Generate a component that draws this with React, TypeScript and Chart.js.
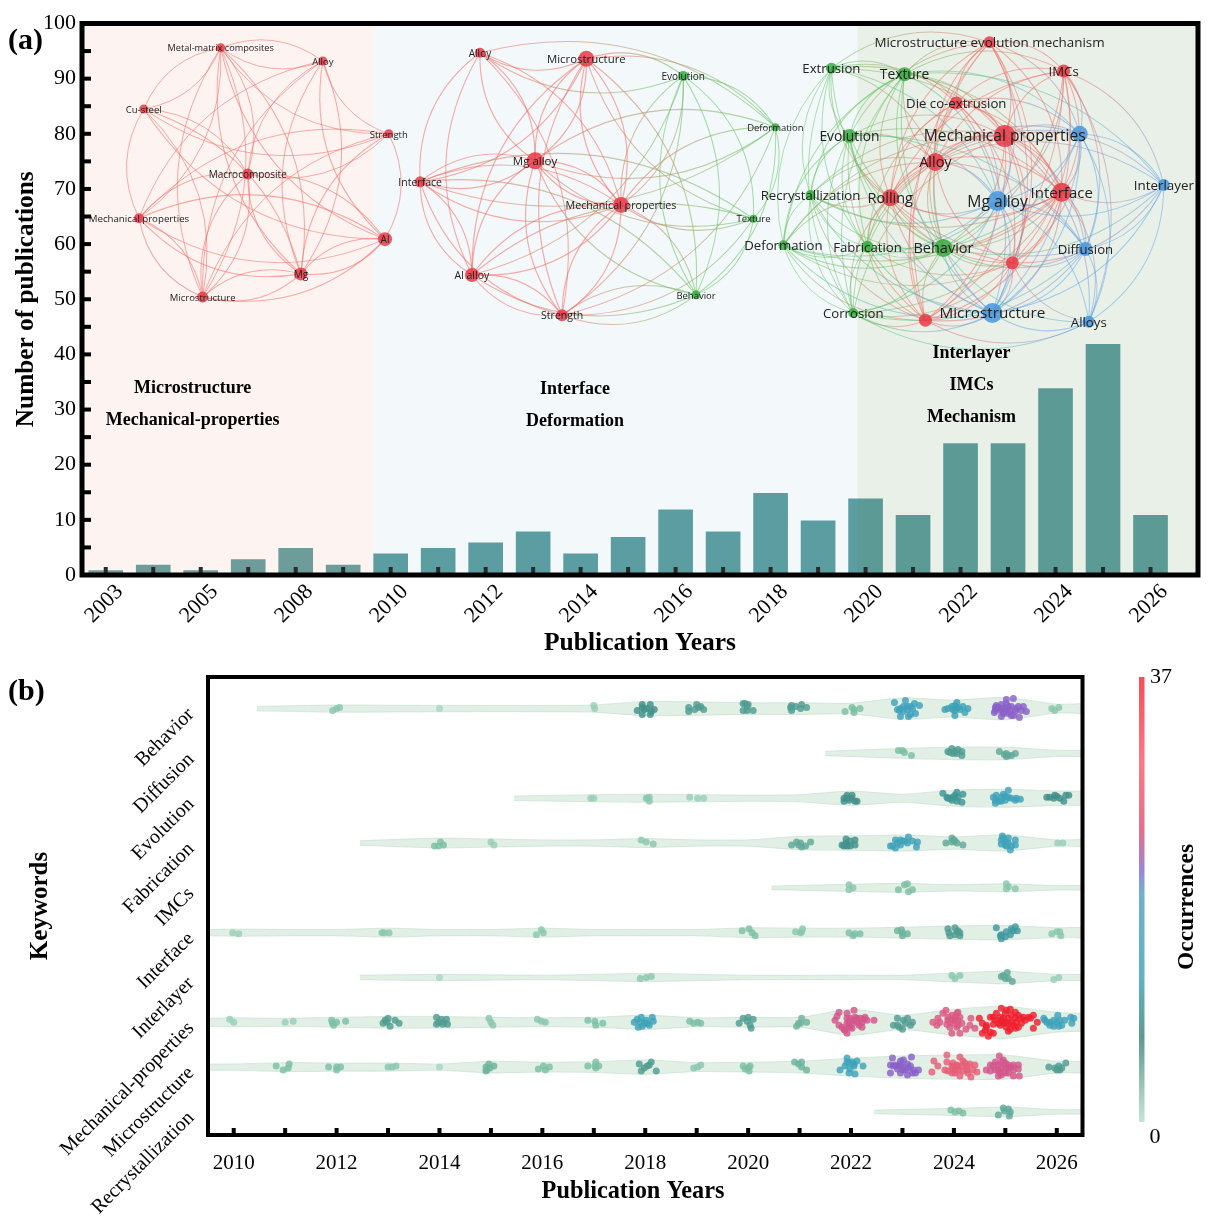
import React, { useEffect, useRef } from "react";
import { Chart } from "chart.js/auto";

// panel (a): publications per year
const barYears = [2003, 2004, 2005, 2007, 2008, 2009, 2010, 2011, 2012, 2013, 2014, 2015, 2016, 2017, 2018, 2019, 2020, 2021, 2022, 2023, 2024, 2025, 2026];
const barCounts = [1, 2, 1, 3, 5, 2, 4, 5, 6, 8, 4, 7, 12, 8, 15, 10, 14, 11, 24, 24, 34, 42, 11];
const bandEdges = [-0.5, 5.63, 15.83, 23];
const bandColors = ["rgba(235,135,105,0.1)", "rgba(55,138,188,0.06)", "rgba(72,130,63,0.12)"];
const stageLabels: [string, number, number][] = [
  ["Microstructure", 1.83, 34.1],
  ["Mechanical-properties", 1.83, 28.3],
  ["Interface", 9.88, 33.9],
  ["Deformation", 9.88, 28.1],
  ["Interlayer", 18.23, 40.4],
  ["IMCs", 18.23, 34.6],
  ["Mechanism", 18.23, 28.8],
];

// keyword networks: name, x, y, radius, cluster, label size
type NetNode = [string, number, number, number, string, number];
const network1: NetNode[] = [
  ["Metal-matrix composites", 2.42, 95.6, 4.5, "r", 9.2],
  ["Alloy", 4.57, 93.2, 4.5, "r", 9.5],
  ["Cu-steel", 0.8, 84.5, 4.5, "r", 9.5],
  ["Strength", 5.96, 80.0, 4.5, "r", 9.5],
  ["Macrocomposite", 2.99, 72.7, 5.5, "r", 10],
  ["Mechanical properties", 0.7, 64.7, 5, "r", 9.7],
  ["Al", 5.88, 60.9, 7, "r", 10],
  ["Mg", 4.11, 54.6, 6.5, "r", 10],
  ["Microstructure", 2.04, 50.4, 5.5, "r", 9.5],
];
const edges1 = [[0, 1], [0, 1, -1], [0, 2], [0, 2, -1], [0, 3, -1], [0, 4, -1], [0, 5, -1], [0, 6, -1], [0, 7], [0, 7, -1], [0, 8], [0, 8, -1], [1, 3, -1], [1, 4], [1, 5], [1, 6, -1], [1, 7], [1, 7, -1], [1, 8, -1], [2, 3, -1], [2, 4, -1], [2, 5], [2, 6, -1], [2, 7, -1], [2, 8, -1], [3, 4, -1], [3, 5, -1], [3, 6], [3, 7, -1], [3, 8, -1], [4, 5], [4, 6, -1], [4, 7], [4, 8], [4, 8, -1], [5, 6], [5, 6, -1], [5, 7], [5, 8], [5, 8, -1], [6, 7], [6, 7, -1], [6, 8], [7, 8], [7, 8, -1]];

const network2: NetNode[] = [
  ["Alloy", 7.88, 94.7, 5, "r", 10],
  ["Microstructure", 10.12, 93.6, 8, "r", 11.4],
  ["Evolution", 12.16, 90.5, 5, "g", 10],
  ["Deformation", 14.1, 81.2, 4, "g", 9.5],
  ["Mg alloy", 9.04, 75.1, 8.5, "r", 11.5],
  ["Interface", 6.62, 71.3, 5.5, "r", 10.5],
  ["Mechanical properties", 10.85, 67.1, 8, "r", 10.7],
  ["Texture", 13.64, 64.6, 4, "g", 9.5],
  ["Al alloy", 7.71, 54.4, 7, "r", 10.5],
  ["Strength", 9.61, 47.1, 6, "r", 10.5],
  ["Behavior", 12.43, 50.8, 4.5, "g", 9.5],
];
const edges2 = [[0, 1, -1], [0, 2, -1], [0, 3], [0, 4], [0, 4, -1], [0, 5], [0, 6, -1], [0, 8], [0, 9, -1], [1, 2], [1, 3], [1, 4], [1, 4, -1], [1, 5, -1], [1, 6], [1, 6, -1], [1, 7, -1], [1, 8], [1, 9], [1, 10], [2, 3], [2, 6], [2, 6, -1], [2, 7], [2, 8, -1], [2, 9], [2, 10], [2, 10, -1], [3, 4], [3, 4, -1], [3, 5, -1], [3, 6, -1], [3, 7], [3, 9], [3, 10], [4, 5], [4, 5, -1], [4, 6], [4, 6, -1], [4, 7, -1], [4, 8], [4, 9], [4, 10], [5, 6], [5, 6, -1], [5, 7, -1], [5, 8], [5, 8, -1], [5, 9], [5, 10, -1], [6, 7], [6, 8], [6, 8, -1], [6, 9], [6, 9, -1], [6, 10], [7, 8, -1], [7, 9], [7, 10], [8, 9], [8, 9, -1], [8, 10], [9, 10], [9, 10, -1]];

const network3: NetNode[] = [
  ["Microstructure evolution mechanism", 18.61, 96.6, 6, "r", 13.4],
  ["IMCs", 20.17, 91.4, 6.5, "r", 13.2],
  ["Extrusion", 15.28, 91.9, 5.5, "g", 13.2],
  ["Texture", 16.82, 90.8, 7, "g", 13.8],
  ["Die co-extrusion", 17.91, 85.6, 6.5, "r", 13.2],
  ["Mechanical properties", 18.93, 79.6, 11, "r", 15.6],
  ["", 20.51, 80.0, 8, "b", 12],
  ["Evolution", 15.66, 79.6, 7, "g", 13.8],
  ["Alloy", 17.47, 74.9, 9, "r", 14.5],
  ["Recrystallization", 14.84, 68.9, 5, "g", 13.2],
  ["Rolling", 16.52, 68.4, 8.5, "r", 14.5],
  ["Mg alloy", 18.78, 67.8, 10, "b", 15.7],
  ["Interface", 20.13, 69.4, 9.5, "r", 15],
  ["Interlayer", 22.28, 70.7, 6, "b", 13.4],
  ["Deformation", 14.27, 59.8, 5, "g", 13.2],
  ["Fabrication", 16.04, 59.5, 6, "g", 13.2],
  ["Behavior", 17.64, 59.3, 9, "g", 14.5],
  ["", 19.09, 56.6, 6.5, "r", 12],
  ["Diffusion", 20.63, 59.1, 7, "b", 13.2],
  ["Corrosion", 15.74, 47.5, 5, "g", 13.2],
  ["", 17.26, 46.2, 6.5, "r", 12],
  ["Microstructure", 18.67, 47.5, 10, "b", 15.3],
  ["Alloys", 20.7, 45.9, 6, "b", 13.2],
];
const links3 = [
  [1, 2, 3, 4, 5, 6, 7, 8, 10, 11, 12, 16, 17, 20, 21],
  [3, 4, 5, 6, 8, 10, 11, 12, 13, 16, 17, 18, 20, 21, 22],
  [3, 4, 5, 7, 8, 9, 10, 11, 12, 14, 15, 16, 19],
  [4, 5, 6, 7, 8, 9, 10, 11, 12, 13, 14, 15, 16, 19, 21],
  [5, 6, 8, 10, 11, 12, 15, 16, 17, 20, 21],
  [6, 7, 8, 9, 10, 11, 12, 13, 14, 15, 16, 17, 18, 19, 20, 21, 22],
  [8, 10, 11, 12, 13, 16, 17, 18, 21, 22],
  [8, 9, 10, 11, 12, 14, 15, 16, 17, 18, 19, 20, 21],
  [9, 10, 11, 12, 13, 14, 15, 16, 17, 18, 19, 20, 21],
  [10, 11, 12, 14, 15, 16, 19, 20, 21],
  [11, 12, 14, 15, 16, 17, 18, 19, 20, 21],
  [12, 13, 14, 15, 16, 17, 18, 19, 20, 21, 22],
  [13, 14, 15, 16, 17, 18, 19, 20, 21, 22],
  [16, 17, 18, 21, 22],
  [15, 16, 17, 19, 20, 21],
  [16, 17, 19, 20, 21],
  [17, 18, 19, 20, 21, 22],
  [18, 19, 20, 21, 22],
  [19, 20, 21, 22],
  [20, 21, 22],
  [21, 22],
  [22],
];
const edges3 = links3.flatMap((targets, i) => targets.map((j) => [i, j]));

const clusterEdge: Record<string, string> = { r: "rgba(246,105,100,A)", g: "rgba(95,195,95,A)", b: "rgba(95,165,232,A)" };
const clusterNode: Record<string, string> = { r: "rgba(232,52,66,0.82)", g: "rgba(50,170,60,0.82)", b: "rgba(70,150,220,0.85)" };

// panel (b): keyword rows
const keywords = ["Behavior", "Diffusion", "Evolution", "Fabrication", "IMCs", "Interface", "Interlayer", "Mechanical-properties", "Microstructure", "Recrystallization"];

// violin outline per keyword: year, half width in row units
const violinBehavior = [[2010.45, 0.05], [2012, 0.08], [2014, 0.07], [2016, 0.07], [2017, 0.08], [2018, 0.16], [2019, 0.15], [2020, 0.13], [2021, 0.13], [2022, 0.12], [2023, 0.24], [2024, 0.19], [2025, 0.25], [2026, 0.1], [2026.5, 0.11]];
const violinDiffusion = [[2021.5, 0.05], [2023, 0.11], [2024, 0.14], [2025, 0.14], [2026, 0.07], [2026.5, 0.07]];
const violinEvolution = [[2015.45, 0.05], [2017, 0.08], [2018, 0.09], [2019, 0.08], [2020, 0.07], [2021, 0.08], [2022, 0.16], [2023, 0.09], [2024, 0.18], [2025, 0.2], [2026, 0.16], [2026.5, 0.16]];
const violinFabrication = [[2012.45, 0.05], [2014, 0.11], [2015, 0.09], [2016, 0.07], [2017, 0.07], [2018, 0.1], [2019, 0.07], [2020, 0.07], [2021, 0.15], [2022, 0.16], [2023, 0.18], [2024, 0.14], [2025, 0.18], [2026, 0.07], [2026.5, 0.08]];
const violinIMCs = [[2020.45, 0.04], [2022, 0.08], [2023, 0.1], [2024, 0.07], [2025, 0.09], [2026, 0.05], [2026.5, 0.05]];
const violinInterface = [[2009.5, 0.07], [2010, 0.08], [2011, 0.07], [2012, 0.07], [2013, 0.1], [2014, 0.07], [2015, 0.07], [2016, 0.1], [2017, 0.07], [2018, 0.07], [2019, 0.07], [2020, 0.11], [2021, 0.1], [2022, 0.1], [2023, 0.12], [2024, 0.15], [2025, 0.16], [2026, 0.11], [2026.5, 0.12]];
const violinInterlayer = [[2012.45, 0.05], [2014, 0.07], [2016, 0.05], [2018, 0.09], [2020, 0.05], [2022, 0.05], [2023, 0.05], [2024, 0.1], [2025, 0.14], [2026, 0.07], [2026.5, 0.07]];
const violinMechanical = [[2009.5, 0.09], [2010, 0.1], [2011, 0.09], [2012, 0.11], [2013, 0.13], [2014, 0.13], [2015, 0.11], [2016, 0.1], [2017, 0.11], [2018, 0.16], [2019, 0.1], [2020, 0.11], [2021, 0.11], [2022, 0.29], [2023, 0.16], [2024, 0.29], [2025, 0.36], [2026, 0.22], [2026.5, 0.2]];
const violinMicrostructure = [[2009.5, 0.07], [2010, 0.07], [2011, 0.1], [2012, 0.09], [2013, 0.09], [2014, 0.07], [2015, 0.13], [2016, 0.11], [2017, 0.12], [2018, 0.16], [2019, 0.1], [2020, 0.11], [2021, 0.13], [2022, 0.2], [2023, 0.25], [2024, 0.27], [2025, 0.27], [2026, 0.13], [2026.5, 0.13]];
const violinRecrystallization = [[2022.45, 0.04], [2024, 0.08], [2025, 0.11], [2026, 0.05], [2026.5, 0.05]];
const violins = [violinBehavior, violinDiffusion, violinEvolution, violinFabrication, violinIMCs, violinInterface, violinInterlayer, violinMechanical, violinMicrostructure, violinRecrystallization];

// swarm per keyword: year, occurrences, then read-off dot offsets (dx, dy in px of the original figure)
type Swarm = [number, number, number[]][];
const swarmBehavior: Swarm = [
  [2012, 3, [-4, 2, 0, 0, 3, -1]],
  [2014, 1, [0, 0]],
  [2017, 2, [0, -3, 1, 0]],
  [2018, 8, [-8, 2, -3, -4, 5, -4, -3, -1, 2, 0, 9, 1, -3, 6, 5, 6, 6, 3, -1, 1]],
  [2019, 7, [-8, -1, -8, 3, -2, 1, 0, -4, 2, -1, 4, -2, 7, 1]],
  [2020, 7, [-5, -5, 0, -4, -5, 2, -1, 2, 5, 2, -1, -2, -3, -5]],
  [2021, 7, [-8, -3, -8, 2, -4, -2, 2, -4, 7, -1, 1, 0, -9, -1]],
  [2022, 4, [-6, 3, 1, -1, 3, 4, 9, 0, 3, 1]],
  [2023, 14, [-8, -6, 3, -8, -2, 0, -5, 1, 1, -2, 5, -2, 8, -2, 12, -5, 17, -3, -2, 8, 6, 8, 13, 5, 8, 6, -3, 2, 5, 1, 10, 0, 1, 3]],
  [2024, 12, [-9, 1, -6, 0, -2, -2, 3, -6, 1, -3, 1, 2, 4, -1, 9, -2, 14, 0, 11, 4, 1, 7, -1, 1, 6, 1]],
  [2025, 21, [8, -10, 1, -9, 1, -5, -4, -4, -9, -3, -10, -1, -7, -1, -4, 0, 0, 0, 3, -2, 6, -2, 13, -2, 18, -2, -11, 4, -5, 2, 0, 3, 5, 2, 10, 3, 16, 2, 21, 3, -4, 8, 6, 7, 14, 9, 3, 5, 8, 7, -2, 5, -10, 2, 11, 0]],
  [2026, 3, [-5, 0, -2, 2, 2, -1]],
];
const swarmDiffusion: Swarm = [
  [2023, 4, [-4, -3, 0, -3, 2, -1, 9, 2]],
  [2024, 7, [-6, -2, -4, -1, -2, -5, 1, -2, 4, -4, 8, -2, 8, 2, 3, 0, -1, 0]],
  [2025, 6, [-6, -2, -1, 1, 1, 3, 6, 2, 10, 0, 3, 2, 1, 0]],
];
const swarmEvolution: Swarm = [
  [2017, 2, [-3, 0, 0, 0]],
  [2018, 3, [4, -1, 1, 0, 4, 3, 2, 0]],
  [2019, 2, [-7, -1, 1, 0, 7, 0]],
  [2022, 8, [-7, 0, -4, -3, 1, -3, 4, 3, 6, 3, -7, 3, -2, 2, 1, 0, -4, 0]],
  [2024, 9, [-11, -5, -7, -1, -4, 0, 1, -3, 3, -6, 9, -4, 8, 4, 3, 3, -2, 2, -6, 0, 4, -1, -1, -1]],
  [2025, 13, [3, -8, -2, -4, -9, -3, -12, -1, -10, 5, -7, 3, -4, 3, 0, 2, 3, -1, 6, 0, 10, 2, 15, 1, -4, -1, 0, -2, -10, 2, 11, 0]],
  [2026, 8, [-10, -1, -7, -1, -3, 0, 0, -2, 3, 0, 7, 3, 9, -3, 12, -3, -2, -3]],
];
const swarmFabrication: Swarm = [
  [2014, 4, [-5, 3, -1, 3, 1, -1, 4, 2]],
  [2015, 2, [0, -1, 3, 2]],
  [2018, 3, [-4, -3, 1, -1, 8, 1]],
  [2021, 6, [-8, 2, -3, -1, 1, 0, 2, 4, 6, 3, 11, -1, -1, 2]],
  [2022, 8, [-9, 2, -5, -4, -5, 0, -1, -2, 4, -3, 4, 2, -1, 3, -4, 3, -7, 3]],
  [2023, 13, [-12, 3, -7, -3, -2, -3, 6, -6, 10, -2, 15, -1, 14, 4, -7, 5, -5, 0, -10, 3, 0, -2, 3, -2, 5, 0, -2, 2]],
  [2024, 6, [-8, 0, -2, -5, 1, -2, 3, 0, 9, 2, -2, -1, 0, -3]],
  [2025, 13, [-3, -7, 3, -5, -4, -3, 0, -2, -4, 1, 1, 3, 10, -3, 10, 2, 5, 7, 6, 3, 0, 2, 3, 0, -2, -5]],
  [2026, 2, [1, 0, 6, 0]],
];
const swarmIMCs: Swarm = [
  [2022, 3, [-2, -3, 2, 0, -2, 2]],
  [2023, 4, [-4, 2, 2, -3, 5, -4, 10, 2, 6, 4]],
  [2025, 3, [1, -4, 3, -1, 10, 1, 1, 1]],
];
const swarmInterface: Swarm = [
  [2010, 2, [-1, 0, 5, 1]],
  [2013, 3, [-6, 0, -4, 0, 1, 0]],
  [2016, 3, [-6, 2, -1, -3, 1, 0]],
  [2020, 4, [-6, -2, 1, -4, 4, 0, 7, 3]],
  [2021, 3, [-4, -1, 1, 0, 3, -4, 2, -1]],
  [2022, 4, [-2, 0, 2, 3, 4, 1, 9, 1]],
  [2023, 5, [-5, -2, -1, -3, 0, 0, 0, 3, 5, 1]],
  [2024, 7, [-6, -4, 1, -5, 4, -2, -5, 0, 1, 2, 6, 0, -4, 3, 6, 3, 3, -1]],
  [2025, 10, [-9, -5, -4, 2, 1, -1, 6, -4, 10, -6, 12, -2, -4, 6, 0, 4, 5, 2, 8, -2, -5, 3]],
  [2026, 3, [-5, 1, 0, -1, 3, -1, 4, 3]],
];
const swarmInterlayer: Swarm = [
  [2014, 1, [0, 0]],
  [2018, 3, [-5, 1, 1, 0, 6, -1]],
  [2024, 3, [-2, -2, 1, 1, 6, -2]],
  [2025, 6, [-4, -1, 2, -5, 0, 1, 3, 1, 7, 4, -2, -2]],
  [2026, 2, [-3, 2, 2, 0]],
];
const swarmMechanical: Swarm = [
  [2010, 2, [-4, -3, 0, 0]],
  [2011, 2, [0, 0, 8, -1]],
  [2012, 4, [-5, -2, 0, 0, -3, 3, 9, -1, -4, 1]],
  [2013, 7, [-5, 1, -3, -2, 0, -4, 2, 4, 7, -2, 11, 1, -1, 0]],
  [2014, 7, [-3, -5, -3, 2, 2, -3, 7, -3, 3, 2, 8, 2, 4, 0, -1, 0]],
  [2015, 3, [-2, -4, 0, 0, 2, 3]],
  [2016, 3, [-5, -3, -1, -1, 3, 0]],
  [2017, 4, [-6, -2, 1, -1, 2, 3, 9, 1]],
  [2018, 13, [-11, 0, -7, 5, -3, 4, -8, -3, -4, -5, 1, -2, 4, 3, 7, -5, 8, -1, 2, 1, -5, 0, -1, 1]],
  [2019, 4, [-7, -1, -3, 1, 1, 0, 4, 1]],
  [2020, 7, [-9, 1, -5, -4, 0, -5, 5, -3, 2, 3, 3, 6, -1, -1]],
  [2021, 5, [-3, 4, 1, 1, 2, -4, 7, 0, -1, 1]],
  [2022, 25, [3, -12, -12, -10, -14, -6, -16, -2, -4, -9, -4, -4, -1, -4, 4, -5, 9, -4, 14, -5, 23, -2, 16, -2, -2, 0, 1, 1, 6, 0, 11, 0, -12, 3, -9, 5, -6, 8, -4, 11, -7, 7, -1, 5, 11, 5, -2, 3, 3, -2, 8, 3, 1, 6, -4, 1, 6, -4, 13, -3]],
  [2023, 7, [-5, -4, -9, 3, -3, 5, 0, 7, 1, -2, 5, -4, 10, 0, 8, 3, 3, 1, -5, 3]],
  [2024, 27, [-8, -12, -11, -9, -16, -4, -21, 0, -17, 3, -7, 2, -6, -2, -2, -7, 4, -10, 1, -5, 4, -2, 6, -5, 8, 1, -4, 5, -2, 11, 6, 11, 3, 5, -1, 1, 1, -2, -2, -2, 4, 3, -14, 0, 17, -4, 12, 7, 16, 3, 21, 6, -6, -5, 3, -9]],
  [2025, 37, [-26, -4, -23, 1, -19, 3, -15, -5, -12, -5, -10, -2, -20, 8, -23, 11, -17, 14, -12, 11, -4, -14, -9, -9, 0, -9, 5, -13, 10, -10, 6, -7, -2, -4, 3, -4, 10, -4, 15, -4, 18, -5, 23, -5, 28, -7, 32, 0, 28, 6, 13, 5, 8, 3, 3, 1, -2, 1, -5, 3, 5, 7, 0, 0, -4, -2, 1, 5, 6, 0, 11, 0, 16, 1, 20, -2, 25, -4, -7, 1, -15, 10, -19, 5, 10, 6, 3, 9, -5, -5, 1, -12, 13, -7, -12, 2]],
  [2026, 13, [-13, -4, -10, 0, -7, 3, -3, 4, 1, -7, 0, 0, 5, 3, 8, -2, 14, -5, 17, -4, 15, 1, 3, -2, -3, -2, -7, 0, 2, 4, -12, -2]],
];
const swarmMicrostructure: Swarm = [
  [2011, 4, [-9, -1, -2, 3, 3, 1, 4, -3]],
  [2012, 4, [-8, 0, 0, 0, 0, 3, 4, 0]],
  [2013, 3, [0, 0, 4, 0, 8, -1]],
  [2014, 1, [0, 0]],
  [2015, 5, [3, -1, -2, -3, -5, 0, -5, 4, -1, 1, -4, 3]],
  [2016, 4, [-4, 2, 1, -1, 3, 3, 7, 0]],
  [2017, 4, [-6, -1, 2, -5, 1, -1, 5, -1, 2, 1]],
  [2018, 7, [-6, -3, -4, 4, -1, 1, 2, -1, 6, -5, 11, 4, 4, -2]],
  [2019, 3, [-3, 1, 1, 0, 4, -2]],
  [2020, 4, [-5, -1, -3, 2, 2, -1, 1, 4, 0, 1]],
  [2021, 5, [-5, -5, -1, -3, 2, -5, 2, 0, 7, 3]],
  [2022, 13, [-11, 3, -4, -9, -2, -4, -6, -1, 1, -5, 3, -1, 6, -6, 12, -1, -2, 6, 4, 7, -1, 2, -4, -5, 3, -3]],
  [2023, 21, [-10, -9, 9, -10, -12, -2, -7, -2, -2, -6, 1, -7, 5, -3, 8, -1, 11, 3, 16, 3, -12, 6, -2, 6, 5, 8, 10, 6, -4, -1, 1, 0, -5, 2, 0, 3, 3, 3, -9, -1, 13, 6, -2, -2, 6, 1]],
  [2024, 30, [-7, -12, -20, -6, -7, -5, -22, 5, -16, -1, -9, 3, -1, -4, 6, -10, 9, -6, 16, -3, 21, -2, 23, 5, 6, 9, 17, 10, -2, -1, 3, -2, 8, -1, 13, -1, -6, 4, 1, 3, 4, 3, 9, 4, 14, 6, 19, 3, -1, 1, 4, -1, 11, -4, -2, 6, 1, 6, 13, 3]],
  [2025, 25, [-6, -11, -10, -5, -15, -2, -19, 3, -15, 4, -10, 3, -7, -2, -4, -5, 0, -4, 3, -2, 8, -2, 13, -2, 13, 2, -5, 6, -7, 9, -4, 8, 0, 6, 3, 1, 8, 3, 8, 9, 14, 9, -12, -1, -4, 1, 0, 1, -7, 3, 3, 6, -2, -7, 6, 0]],
  [2026, 7, [-8, 0, -2, 1, 2, -1, 5, 1, 9, -4, 3, 3, 0, 3]],
];
const swarmRecrystallization: Swarm = [
  [2024, 4, [-3, -2, 1, 0, 5, -1, 9, 1]],
  [2025, 6, [-7, 3, -2, -4, 3, -3, 5, 0, 4, 4, -1, -1]],
];
const swarms = [swarmBehavior, swarmDiffusion, swarmEvolution, swarmFabrication, swarmIMCs, swarmInterface, swarmInterlayer, swarmMechanical, swarmMicrostructure, swarmRecrystallization];

// occurrences colour scale
const scaleValues = [0, 4, 8, 12, 19, 21, 25, 30, 37];
const dotColors = ["#b4e0c8", "#7dbfa4", "#42908a", "#3ba2b5", "#4d9fcf", "#8a60c8", "#d3558a", "#e75d78", "#f01f2d"];
const barValues = [0, 7, 12, 19, 21, 24, 30, 37];
const barColors = ["#c4e6d5", "#5f9a90", "#5db3c4", "#72b0d0", "#9b85d8", "#e0708f", "#f97a85", "#f54e58"];

const pxPerYear = 51.44;
const pxPerRow = 44.8;
const serif = "'Liberation Serif', serif";

function hexRgb(hex: string) {
  return [1, 3, 5].map((i) => parseInt(hex.slice(i, i + 2), 16));
}

function colorAt(value: number, alpha: number) {
  let i = 0;
  while (i < scaleValues.length - 2 && value > scaleValues[i + 1]) i++;
  const t = Math.min(1, (value - scaleValues[i]) / (scaleValues[i + 1] - scaleValues[i]));
  const a = hexRgb(dotColors[i]);
  const b = hexRgb(dotColors[i + 1]);
  const c = a.map((v, k) => Math.round(v + (b[k] - v) * t));
  return `rgba(${c[0]},${c[1]},${c[2]},${alpha})`;
}

function drawEdges(chart: any, nodes: NetNode[], edges: number[][], alpha: number, widthScale: number) {
  const { ctx, scales } = chart;
  const pts = nodes.map((n) => ({ x: scales.x.getPixelForValue(n[1]), y: scales.y.getPixelForValue(n[2]) }));
  const cx = pts.reduce((s, p) => s + p.x, 0) / pts.length;
  const cy = pts.reduce((s, p) => s + p.y, 0) / pts.length;
  ctx.save();
  edges.forEach((e) => {
    const p = pts[e[0]];
    const q = pts[e[1]];
    const mx = (p.x + q.x) / 2;
    const my = (p.y + q.y) / 2;
    let nx = -(q.y - p.y);
    let ny = q.x - p.x;
    if (nx * (mx - cx) + ny * (my - cy) < 0) {
      nx = -nx;
      ny = -ny;
    }
    const bend = 0.27 * (e[2] ?? 1);
    const grad = ctx.createLinearGradient(p.x, p.y, q.x, q.y);
    grad.addColorStop(0, clusterEdge[nodes[e[0]][4]].replace("A", String(alpha)));
    grad.addColorStop(1, clusterEdge[nodes[e[1]][4]].replace("A", String(alpha)));
    ctx.strokeStyle = grad;
    ctx.lineWidth = 0.8 + ((nodes[e[0]][3] + nodes[e[1]][3]) / 20) * widthScale;
    ctx.beginPath();
    ctx.moveTo(p.x, p.y);
    ctx.quadraticCurveTo(mx + nx * bend, my + ny * bend, q.x, q.y);
    ctx.stroke();
  });
  ctx.restore();
}

const panelAPlugin = {
  id: "panelA",
  afterDatasetDraw(chart: any, args: any) {
    if (args.meta.type !== "bar") return;
    const { ctx, chartArea, scales } = chart;
    bandColors.forEach((color, i) => {
      const l = scales.x.getPixelForValue(bandEdges[i]);
      const r = scales.x.getPixelForValue(bandEdges[i + 1]);
      ctx.fillStyle = color;
      ctx.fillRect(l, chartArea.top, r - l, chartArea.height);
    });
    drawEdges(chart, network1, edges1, 0.55, 0.4);
    drawEdges(chart, network2, edges2, 0.55, 0.5);
    drawEdges(chart, network3, edges3, 0.5, 0.35);
  },
  afterDraw(chart: any) {
    const { ctx, chartArea, scales } = chart;
    ctx.save();
    ctx.textAlign = "center";
    ctx.textBaseline = "middle";
    ctx.fillStyle = "#222";
    [network1, network2, network3].forEach((nodes) => {
      nodes.forEach((n) => {
        if (!n[0]) return;
        ctx.font = `${n[5]}px 'Open Sans', sans-serif`;
        ctx.fillText(n[0], scales.x.getPixelForValue(n[1]), scales.y.getPixelForValue(n[2]) + 1);
      });
    });
    ctx.fillStyle = "#000";
    ctx.font = `bold 18px ${serif}`;
    stageLabels.forEach((s) => ctx.fillText(s[0], scales.x.getPixelForValue(s[1]), scales.y.getPixelForValue(s[2]) + 1));

    // inward ticks
    ctx.fillStyle = "#2a2a2a";
    barYears.forEach((_, i) => ctx.fillRect(scales.x.getPixelForValue(i) - 2, chartArea.bottom - 8, 4, 8));
    ctx.fillStyle = "#000";
    for (let v = 5; v < 100; v += 5) ctx.fillRect(chartArea.left, scales.y.getPixelForValue(v) - 2, 9, 4);

    ctx.strokeStyle = "#000";
    ctx.lineWidth = 5;
    ctx.strokeRect(chartArea.left, chartArea.top, chartArea.width, chartArea.height);

    ctx.textAlign = "left";
    ctx.font = `bold 30px ${serif}`;
    ctx.fillText("(a)", 8, 41);
    ctx.restore();
  },
};

const panelBPlugin = {
  id: "panelB",
  afterDraw(chart: any) {
    const { ctx, chartArea, scales } = chart;
    ctx.save();
    ctx.fillStyle = "#000";
    for (let y = 2010; y <= 2026; y++) ctx.fillRect(scales.x.getPixelForValue(y) - 2, chartArea.bottom - 7, 4, 7);
    ctx.strokeStyle = "#000";
    ctx.lineWidth = 4;
    ctx.strokeRect(chartArea.left, chartArea.top, chartArea.width, chartArea.height);

    ctx.textBaseline = "middle";
    ctx.textAlign = "left";
    ctx.font = `bold 30px ${serif}`;
    ctx.fillText("(b)", 8, 32);

    ctx.textAlign = "center";
    ctx.font = `bold 24.3px ${serif}`;
    ctx.fillText("Publication Years", 633, 532);

    // colour bar
    const grad = ctx.createLinearGradient(0, 462, 0, 17);
    barValues.forEach((v, i) => grad.addColorStop(v / 37, barColors[i]));
    ctx.fillStyle = grad;
    ctx.fillRect(1139, 17, 5.5, 445);
    ctx.fillStyle = "#000";
    ctx.font = `22px ${serif}`;
    ctx.fillText("37", 1161, 17);
    ctx.fillText("0", 1155, 477);
    ctx.translate(1187, 247);
    ctx.rotate(-Math.PI / 2);
    ctx.font = `bold 23.5px ${serif}`;
    ctx.fillText("Occurrences", 0, 0);
    ctx.restore();
  },
};

const App: React.FC = () => {
  const topRef = useRef<HTMLCanvasElement | null>(null);
  const bottomRef = useRef<HTMLCanvasElement | null>(null);

  useEffect(() => {
    if (!topRef.current || !bottomRef.current) return;

    const allNodes = [...network1, ...network2, ...network3];
    const top = new Chart(topRef.current, {
      type: "bar",
      data: {
        datasets: [
          {
            type: "bubble",
            order: 1,
            data: allNodes.map((n) => ({ x: n[1], y: n[2], r: n[3] })),
            backgroundColor: allNodes.map((n) => clusterNode[n[4]]),
            borderWidth: 0,
          },
          {
            order: 2,
            data: barCounts.map((v, i) => ({ x: i, y: v })),
            backgroundColor: "#5f9fa1",
            borderColor: "rgba(255,255,255,0.25)",
            borderWidth: 1,
            barThickness: 36,
          },
        ],
      } as any,
      options: {
        responsive: false,
        animation: false,
        events: [],
        layout: { padding: { top: 23.5, right: 11 } },
        plugins: { legend: { display: false }, tooltip: { enabled: false } },
        scales: {
          x: {
            type: "linear",
            offset: false,
            min: -0.5,
            max: 23,
            grid: { display: false, drawTicks: false },
            border: { display: false },
            afterBuildTicks: (s: any) => {
              s.ticks = barYears.map((_, i) => ({ value: i }));
            },
            afterFit: (s: any) => {
              s.height = 85;
              s.paddingLeft = 0;
              s.paddingRight = 0;
            },
            ticks: {
              autoSkip: false,
              minRotation: 45,
              maxRotation: 45,
              padding: 4,
              labelOffset: 14,
              color: "#000",
              font: { family: serif, size: 22 },
              callback: (v: any) => (v % 2 === 0 ? String(barYears[v]) : ""),
            },
            title: {
              display: true,
              text: "Publication Years",
              color: "#000",
              font: { family: serif, size: 25.5, weight: "bold" },
              padding: { bottom: 1, top: 0 },
            },
          },
          y: {
            min: 0,
            max: 100,
            grid: { display: false, drawTicks: false },
            border: { display: false },
            afterFit: (s: any) => {
              s.width = 82;
            },
            ticks: { stepSize: 10, padding: 6, color: "#000", font: { family: serif, size: 22 } },
            title: {
              display: true,
              text: "Number of publications",
              color: "#000",
              font: { family: serif, size: 25.3, weight: "bold" },
              padding: { top: 11, bottom: 0 },
            },
          },
        },
      } as any,
      plugins: [panelAPlugin],
    });

    const violinSets = violins.flatMap((outline, row) =>
      [-1, 1].map((side) => ({
        type: "scatter",
        order: 5,
        showLine: true,
        tension: 0.2,
        pointRadius: 0,
        borderWidth: 1,
        borderColor: "rgba(190,220,200,0.55)",
        backgroundColor: "rgba(176,212,186,0.38)",
        fill: side === -1 ? "+1" : false,
        data: outline.map((p) => ({ x: p[0], y: row + side * p[1] })),
      }))
    );
    const swarmSets = swarms.map((clusters, row) => {
      const data: { x: number; y: number }[] = [];
      const colors: string[] = [];
      clusters.forEach(([year, occurrences, offsets]) => {
        for (let i = 0; i < offsets.length; i += 2) {
          data.push({ x: year + offsets[i] / pxPerYear, y: row + offsets[i + 1] / pxPerRow });
          colors.push(colorAt(occurrences, 0.82));
        }
      });
      return { type: "scatter", order: 1, data, backgroundColor: colors, pointRadius: 3.5, borderWidth: 0 };
    });

    const bottom = new Chart(bottomRef.current, {
      type: "scatter",
      data: { datasets: [...violinSets, ...swarmSets] } as any,
      options: {
        responsive: false,
        animation: false,
        events: [],
        layout: { padding: { top: 17, right: 126.5 } },
        plugins: { legend: { display: false }, tooltip: { enabled: false } },
        scales: {
          x: {
            type: "linear",
            min: 2009.5,
            max: 2026.5,
            grid: { display: false, drawTicks: false },
            border: { display: false },
            afterBuildTicks: (s: any) => {
              s.ticks = [];
              for (let y = 2010; y <= 2026; y++) s.ticks.push({ value: y });
            },
            afterFit: (s: any) => {
              s.height = 90;
              s.paddingLeft = 0;
              s.paddingRight = 0;
            },
            ticks: {
              autoSkip: false,
              maxRotation: 0,
              padding: 16,
              color: "#000",
              font: { family: serif, size: 21 },
              callback: (v: any) => (v % 2 === 0 ? String(v) : ""),
            },
          },
          y: {
            type: "linear",
            reverse: true,
            min: -0.705,
            max: 9.515,
            grid: { display: false, drawTicks: false },
            border: { display: false },
            afterBuildTicks: (s: any) => {
              s.ticks = keywords.map((_, i) => ({ value: i }));
            },
            afterFit: (s: any) => {
              s.width = 208;
              s.paddingTop = 0;
              s.paddingBottom = 0;
            },
            ticks: {
              autoSkip: false,
              minRotation: 45,
              maxRotation: 45,
              padding: 17,
              labelOffset: 3,
              color: "#000",
              font: { family: serif, size: 20 },
              callback: (v: any) => keywords[v] ?? "",
            },
            title: {
              display: true,
              text: "Keywords",
              color: "#000",
              font: { family: serif, size: 25, weight: "bold" },
              padding: { top: 26, bottom: 0 },
            },
          },
        },
      } as any,
      plugins: [panelBPlugin],
    });

    return () => {
      top.destroy();
      bottom.destroy();
    };
  }, []);

  return (
    <div style={{ position: "absolute", left: 0, top: 0, width: 1209, height: 1225, background: "#fff" }}>
      <canvas ref={topRef} width={1209} height={660} style={{ position: "absolute", left: 0, top: 0 }} />
      <canvas ref={bottomRef} width={1209} height={565} style={{ position: "absolute", left: 0, top: 660 }} />
    </div>
  );
};

export default App;
